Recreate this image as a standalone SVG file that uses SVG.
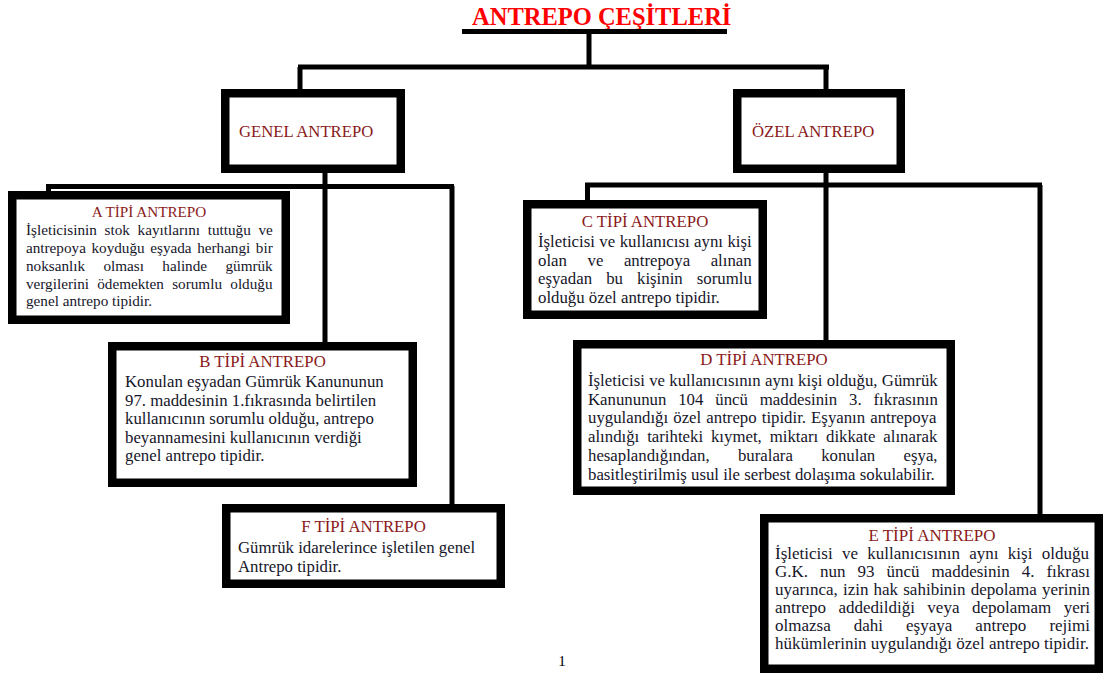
<svg xmlns="http://www.w3.org/2000/svg" width="1105" height="675" viewBox="0 0 1105 675">
<style>
.box{fill:#fff;stroke:#000;stroke-width:8.5}
.ln{fill:none;stroke:#000;stroke-width:5}
.t{font-family:"Liberation Serif","Times New Roman",serif;fill:#8b1a1a;text-anchor:middle}
.b{font-family:"Liberation Serif","Times New Roman",serif;fill:#16162a}
.a{font-size:15.2px}
.m{font-size:16.8px}
.e{font-size:17px}
</style>
<rect width="1105" height="675" fill="#fff"/>
<g id="title">
<text x="472" y="25" font-family="'Liberation Serif','Times New Roman',serif" font-size="24.5" font-weight="bold" fill="#ff0000">ANTREPO ÇEŞİTLERİ</text>
<rect x="462" y="29" width="265" height="5" fill="#000"/>
</g>
<g id="connectors">
<path class="ln" d="M589 32V67M298 67H829M300 67V90M826 67V90"/>
<path class="ln" d="M325 172V343M46 186.5H454M48.5 186V192M452 186V505"/>
<path class="ln" d="M826 172V341M585 185H1042M587.5 185V201M1040 185V516"/>
</g>
<g id="genel">
<rect class="box" x="225.25" y="93.25" width="175.5" height="75.5"/>
<text class="b" x="239" y="137" font-size="16.7" fill="#8b1a1a" style="fill:#8b1a1a">GENEL ANTREPO</text>
</g>
<g id="ozel">
<rect class="box" x="737.25" y="93.25" width="163.5" height="75.5"/>
<text class="b" x="752" y="137" font-size="16.7" style="fill:#8b1a1a">ÖZEL ANTREPO</text>
</g>
<g id="a-tipi">
<rect class="box" x="12.25" y="195.25" width="273.5" height="124.5"/>
<text class="t a" x="149" y="217">A TİPİ ANTREPO</text>
<text class="b a" x="26" y="235" style="word-spacing:3.9px">İşleticisinin stok kayıtlarını tuttuğu ve</text>
<text class="b a" x="26" y="253" style="word-spacing:1.8px">antrepoya koyduğu eşyada herhangi bir</text>
<text class="b a" x="26" y="271" style="word-spacing:14.6px">noksanlık olması halinde gümrük</text>
<text class="b a" x="26" y="288.5" style="word-spacing:4.5px">vergilerini ödemekten sorumlu olduğu</text>
<text class="b a" x="26" y="306">genel antrepo tipidir.</text>
</g>
<g id="b-tipi">
<rect class="box" x="112.25" y="346.25" width="300.5" height="136.5"/>
<text class="t m" x="262.5" y="367">B TİPİ ANTREPO</text>
<text class="b m" x="125" y="387">Konulan eşyadan Gümrük Kanununun</text>
<text class="b m" x="125" y="405.5">97. maddesinin 1.fıkrasında belirtilen</text>
<text class="b m" x="125" y="424">kullanıcının sorumlu olduğu, antrepo</text>
<text class="b m" x="125" y="442.5">beyannamesini kullanıcının verdiği</text>
<text class="b m" x="125" y="461">genel antrepo tipidir.</text>
</g>
<g id="f-tipi">
<rect class="box" x="226.25" y="508.25" width="274.5" height="75.5"/>
<text class="t m" x="363.5" y="532">F TİPİ ANTREPO</text>
<text class="b m" x="238" y="553">Gümrük idarelerince işletilen genel</text>
<text class="b m" x="238" y="572">Antrepo tipidir.</text>
</g>
<g id="c-tipi">
<rect class="box" x="527.25" y="204.25" width="235.5" height="110.5"/>
<text class="t m" x="645" y="227">C TİPİ ANTREPO</text>
<text class="b m" x="538" y="247" style="word-spacing:0.3px">İşleticisi ve kullanıcısı aynı kişi</text>
<text class="b m" x="538" y="265.5" style="word-spacing:16.4px">olan ve antrepoya alınan</text>
<text class="b m" x="538" y="284" style="word-spacing:9.9px">eşyadan bu kişinin sorumlu</text>
<text class="b m" x="538" y="302.5">olduğu özel antrepo tipidir.</text>
</g>
<g id="d-tipi">
<rect class="box" x="577.25" y="344.25" width="373.5" height="146.5"/>
<text class="t m" x="764" y="365">D TİPİ ANTREPO</text>
<text class="b m" x="588" y="386" style="word-spacing:0.1px">İşleticisi ve kullanıcısının aynı kişi olduğu, Gümrük</text>
<text class="b m" x="588" y="404.5" style="word-spacing:7.7px">Kanununun 104 üncü maddesinin 3. fıkrasının</text>
<text class="b m" x="588" y="423" style="word-spacing:0.9px">uygulandığı özel antrepo tipidir. Eşyanın antrepoya</text>
<text class="b m" x="588" y="442" style="word-spacing:3.7px">alındığı tarihteki kıymet, miktarı dikkate alınarak</text>
<text class="b m" x="588" y="461" style="word-spacing:24.1px">hesaplandığından, buralara konulan eşya,</text>
<text class="b m" x="588" y="479.5">basitleştirilmiş usul ile serbest dolaşıma sokulabilir.</text>
</g>
<g id="e-tipi">
<rect class="box" x="764.25" y="518.25" width="334.5" height="150.5"/>
<text class="t e" x="932" y="541">E TİPİ ANTREPO</text>
<text class="b e" x="775" y="559" style="word-spacing:5.1px">İşleticisi ve kullanıcısının aynı kişi olduğu</text>
<text class="b e" x="775" y="577" style="word-spacing:7.7px">G.K. nun 93 üncü maddesinin 4. fıkrası</text>
<text class="b e" x="775" y="595" style="word-spacing:0.9px">uyarınca, izin hak sahibinin depolama yerinin</text>
<text class="b e" x="775" y="613" style="word-spacing:8.2px">antrepo addedildiği veya depolamam yeri</text>
<text class="b e" x="775" y="631" style="word-spacing:18.8px">olmazsa dahi eşyaya antrepo rejimi</text>
<text class="b e" x="775" y="649">hükümlerinin uygulandığı özel antrepo tipidir.</text>
</g>
<text x="562" y="666" font-family="'Liberation Serif','Times New Roman',serif" font-size="15" fill="#000" text-anchor="middle">1</text>
</svg>
